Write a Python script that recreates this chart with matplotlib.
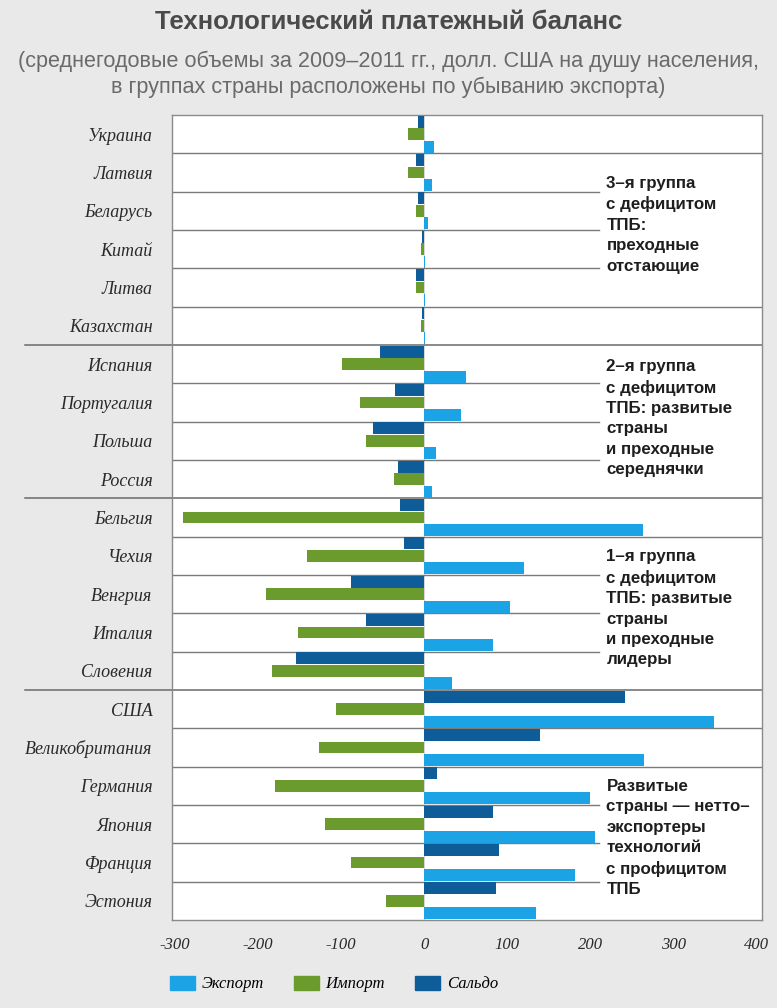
import numpy as np
import matplotlib.pyplot as plt
from matplotlib.patches import Patch
from matplotlib.transforms import blended_transform_factory

countries = ['Украина', 'Латвия', 'Беларусь', 'Китай', 'Литва', 'Казахстан',
             'Испания', 'Португалия', 'Польша', 'Россия',
             'Бельгия', 'Чехия', 'Венгрия', 'Италия', 'Словения',
             'США', 'Великобритания', 'Германия', 'Япония', 'Франция', 'Эстония']
export = [12, 9, 5, 1, 1, 0.5,
          50, 44, 14, 9,
          263, 120, 103, 83, 34,
          348, 264, 199, 205, 181, 135]
imports = [-19, -19, -10, -4, -10, -4,
           -99, -77, -70, -36,
           -290, -141, -190, -152, -183,
           -106, -126, -179, -119, -88, -46]
saldo = [-7, -10, -7, -3, -10, -3,
         -53, -35, -62, -32,
         -29, -24, -88, -70, -154,
         241, 139, 16, 83, 90, 86]
group_ends = [6, 10, 15]
xticks = [-300, -200, -100, 0, 100, 200, 300, 400]

notes = ['3–я группа\nс дефицитом\nТПБ:\nпреходные\nотстающие',
         '2–я группа\nс дефицитом\nТПБ: развитые\nстраны\nи преходные\nсереднячки',
         '1–я группа\nс дефицитом\nТПБ: развитые\nстраны\nи преходные\nлидеры',
         'Развитые\nстраны — нетто–\nэкспортеры\nтехнологий\nс профицитом\nТПБ']
note_rows = [1.08, 5.86, 10.82, 16.82]

c_exp = '#1ba3e6'
c_imp = '#6b9b2c'
c_sal = '#0e5d98'

fig = plt.figure(figsize=(7.77, 10.08), dpi=100)
fig.patch.set_facecolor('#e9e9e9')
ax = fig.add_axes([172 / 777, 1 - 920 / 1008, 590 / 777, 805 / 1008])
ax.set_facecolor('white')

y = np.arange(len(countries))
h = 0.31
ax.barh(y - 0.325, saldo, height=h, color=c_sal, label='Сальдо', zorder=3)
ax.barh(y, imports, height=h, color=c_imp, label='Импорт', zorder=3)
ax.barh(y + 0.325, export, height=h, color=c_exp, label='Экспорт', zorder=3)

ax.set_xlim(-303, 406)
ax.set_ylim(len(countries) - 0.5, -0.5)
ax.axvline(0, color='#cfcfcf', lw=0.6, zorder=1)

# row separators, shorter where the group notes sit
short = [2, 3, 4, 7, 8, 9, 12, 13, 14, 18, 19, 20]
for i in range(1, len(countries)):
    if i in group_ends:
        continue
    xe = 210 if i in short else 406
    ax.plot([-303, xe], [i - 0.5, i - 0.5], color='#7a7a7a', lw=1, zorder=2)

tr = blended_transform_factory(ax.transAxes, ax.transData)
for g in group_ends:
    ax.plot([-0.25, 1], [g - 0.5, g - 0.5], color='#6a6a6a', lw=1.1,
            transform=tr, clip_on=False, zorder=2)

for t, r in zip(notes, note_rows):
    ax.text(219, r, t, ha='left', va='top', fontsize=12.2, fontweight='bold',
            family='Liberation Sans', color='#1e1e1e', linespacing=1.45, zorder=4)

ax.set_yticks(y)
ax.set_yticklabels(countries, family='Liberation Serif', style='italic',
                   fontsize=13, color='#2a2a2a')
ax.set_xticks(xticks)
ax.set_xticklabels([str(v) for v in xticks], family='Liberation Serif',
                   style='italic', fontsize=12, color='#2a2a2a')
ax.tick_params(length=0)
ax.tick_params(axis='y', pad=14)
ax.tick_params(axis='x', pad=12)
for s in ax.spines.values():
    s.set_color('#8a8a8a')
    s.set_linewidth(1)

fig.text(0.5, 1 - 22 / 1008, 'Технологический платежный баланс', ha='center',
         va='center', fontsize=18.5, fontweight='bold',
         family='Liberation Sans', color='#4a4a4a')
fig.text(0.5, 1 - 74 / 1008,
         '(среднегодовые объемы за 2009–2011 гг., долл. США на душу населения,\n'
         'в группах страны расположены по убыванию экспорта)',
         ha='center', va='center', fontsize=15.6,
         family='Liberation Sans', color='#6a6a6a', linespacing=1.3)

handles = [Patch(color=c_exp, label='Экспорт'), Patch(color=c_imp, label='Импорт'),
           Patch(color=c_sal, label='Сальдо')]
fig.legend(handles=handles, loc='center', bbox_to_anchor=(334 / 777, 1 - 984 / 1008),
           ncol=3, frameon=False, handlelength=1.5, handleheight=0.9,
           columnspacing=1.8, handletextpad=0.4,
           prop={'family': 'Liberation Serif', 'style': 'italic', 'size': 12})

fig.savefig('out.png', dpi=100, facecolor=fig.get_facecolor())
